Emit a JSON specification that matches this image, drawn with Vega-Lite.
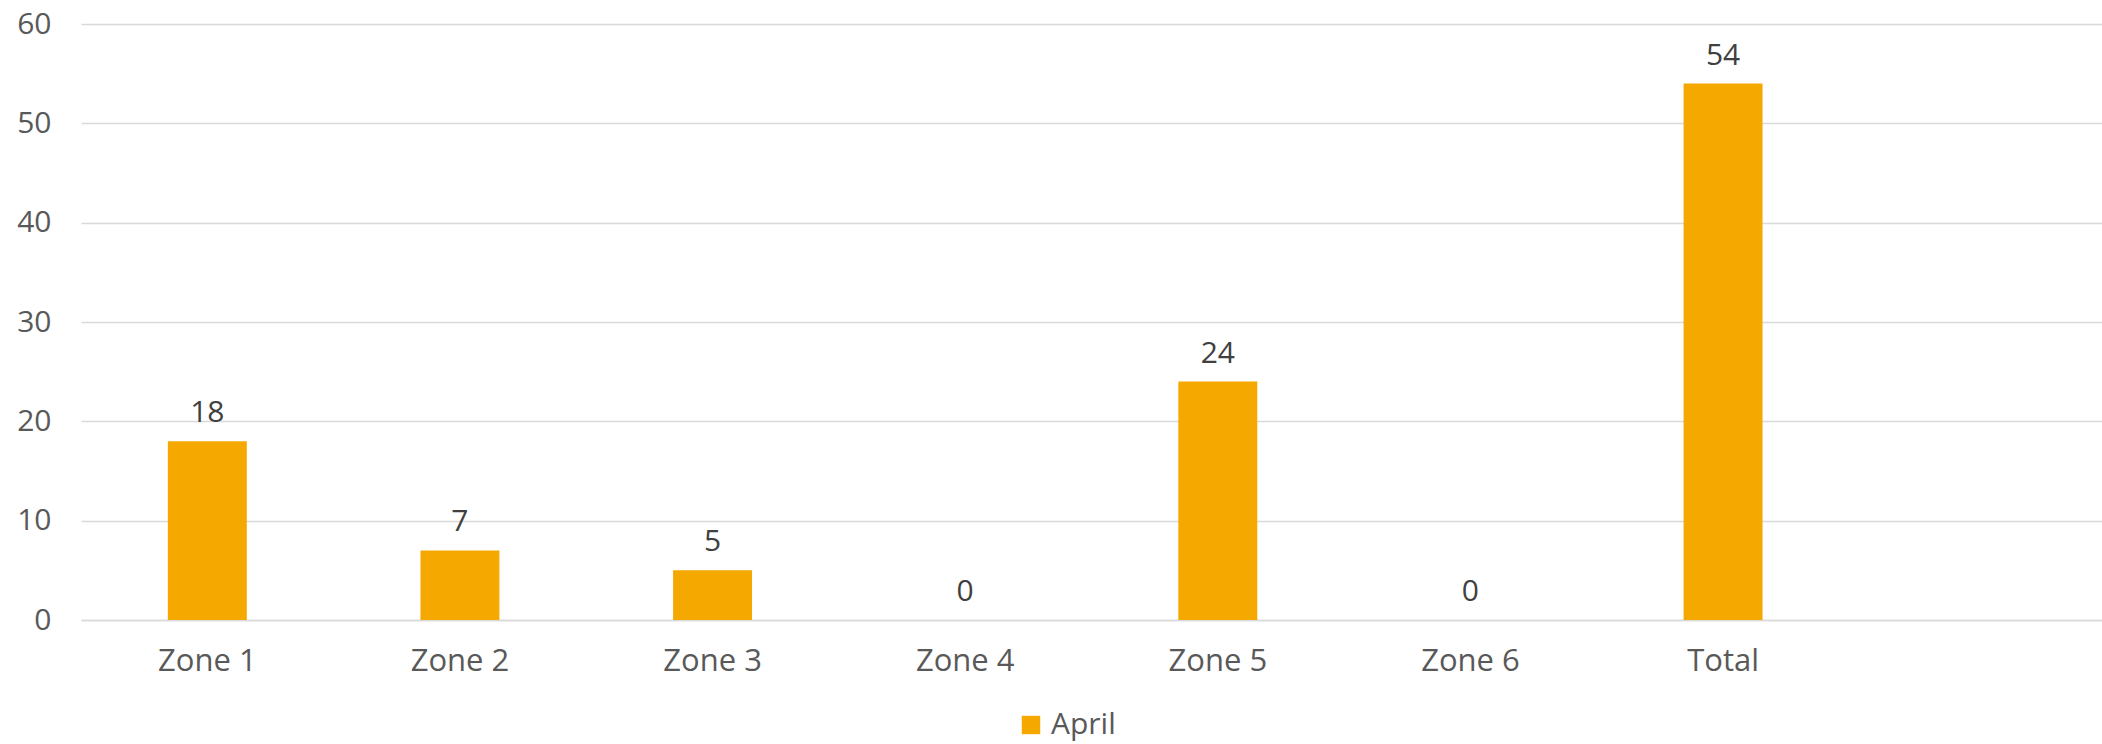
{
  "$schema": "https://vega.github.io/schema/vega-lite/v6.json",
  "width": 2021,
  "height": 596,
  "padding": {"left": 81, "top": 24, "right": 0, "bottom": 124},
  "autosize": {"type": "none"},
  "background": "#ffffff",
  "config": {
    "view": {"stroke": null},
    "font": "Open Sans"
  },
  "data": {
    "values": [
      {"zone": "Zone 1", "value": 18, "series": "April"},
      {"zone": "Zone 2", "value": 7, "series": "April"},
      {"zone": "Zone 3", "value": 5, "series": "April"},
      {"zone": "Zone 4", "value": 0, "series": "April"},
      {"zone": "Zone 5", "value": 24, "series": "April"},
      {"zone": "Zone 6", "value": 0, "series": "April"},
      {"zone": "Total", "value": 54, "series": "April"}
    ]
  },
  "encoding": {
    "x": {
      "field": "zone",
      "type": "nominal",
      "sort": null,
      "scale": {
        "domain": ["Zone 1", "Zone 2", "Zone 3", "Zone 4", "Zone 5", "Zone 6", "Total", " "],
        "paddingInner": 0.6875,
        "paddingOuter": 0.34375
      },
      "axis": {
        "title": null,
        "labelAngle": 0,
        "ticks": false,
        "domain": true,
        "domainColor": "#D9D9D9",
        "domainWidth": 1.5,
        "labelFont": "Open Sans",
        "labelFontSize": 31,
        "labelColor": "#595959",
        "labelPadding": 26
      }
    },
    "y": {
      "field": "value",
      "type": "quantitative",
      "scale": {"domain": [0, 60], "nice": false},
      "axis": {
        "title": null,
        "values": [0, 10, 20, 30, 40, 50, 60],
        "ticks": false,
        "domain": false,
        "grid": true,
        "gridColor": "#D9D9D9",
        "gridWidth": 1.5,
        "labelFont": "Open Sans",
        "labelFontSize": 30,
        "labelColor": "#595959",
        "labelPadding": 30
      }
    }
  },
  "layer": [
    {
      "mark": {"type": "bar"},
      "encoding": {
        "color": {
          "field": "series",
          "type": "nominal",
          "scale": {"range": ["#F5A800"]},
          "legend": {
            "title": null,
            "orient": "none",
            "legendX": 935,
            "legendY": 686,
            "symbolType": "square",
            "symbolSize": 340,
            "symbolStrokeWidth": 0,
            "labelFont": "Open Sans",
            "labelFontSize": 30,
            "labelColor": "#595959",
            "labelOffset": 5
          }
        }
      }
    },
    {
      "mark": {"type": "text", "baseline": "alphabetic", "dy": -19, "font": "Open Sans", "fontSize": 30, "color": "#404040"},
      "encoding": {
        "text": {"field": "value", "type": "quantitative"}
      }
    }
  ]
}
